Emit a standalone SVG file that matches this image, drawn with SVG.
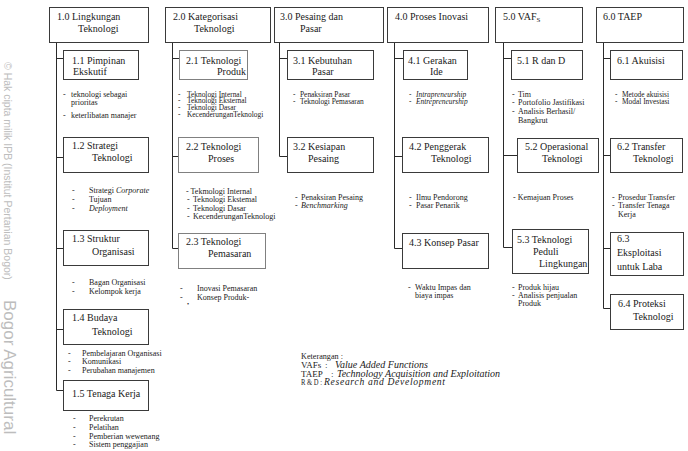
<svg xmlns="http://www.w3.org/2000/svg" width="688" height="451" viewBox="0 0 688 451">
<style>
text{font-family:"Liberation Serif","Times New Roman",serif;fill:#1a1a1a}
.t{font-size:10px}
.b{font-size:8px}
.s{font-size:7.4px}
.lg{font-size:9px}
.li{font-size:9.6px;font-style:italic}
.i{font-style:italic}
rect{fill:#fff;stroke:#3a3a3a;stroke-width:1}
rect.g{stroke:#808080}
.c{fill:none;stroke:#2a2a2a;stroke-width:1}
.wm{font-family:"Liberation Sans",Arial,sans-serif;fill:#bdbdbd}
</style>
<rect width="688" height="451" style="fill:#fff;stroke:none"/>
<g id="watermark">
<text class="wm" font-size="10.5" transform="translate(4,62) rotate(90)">© Hak cipta milik IPB (Institut Pertanian Bogor)</text>
<text class="wm" font-size="17" transform="translate(4,300) rotate(90)">Bogor Agricultural</text>
</g>
<g id="connectors">
<path class="c" d="M56.5,42 V390.5 H63 M56.5,58.5 H63 M56.5,157.5 H63 M56.5,248.5 H63 M56.5,329.5 H63"/>
<path class="c" d="M172.5,42 V248.5 H178 M172.5,58.5 H179 M172.5,156.5 H178"/>
<path class="c" d="M279.5,42 V156.5 H287 M279.5,58.5 H287"/>
<path class="c" d="M394.5,42 V248.5 H402 M394.5,58.5 H403 M394.5,156.5 H402"/>
<path class="c" d="M503.5,42 V247.5 H512 M503.5,58.5 H511 M503.5,155.5 H517"/>
<path class="c" d="M603.5,42 V308.5 H610 M603.5,58.5 H610 M603.5,155.5 H610 M603.5,248.5 H610"/>
</g>
<g id="n1-0"><rect x="49.5" y="7.5" width="99" height="35"/><text class="t" x="57" y="20">1.0 Lingkungan</text><text class="t" x="78" y="32">Teknologi</text></g>
<g id="n2-0"><rect x="165.5" y="7.5" width="105" height="35"/><text class="t" x="173" y="20">2.0 Kategorisasi</text><text class="t" x="194" y="32">Teknologi</text></g>
<g id="n3-0"><rect x="274.5" y="7.5" width="109" height="35"/><text class="t" x="280" y="20">3.0 Pesaing dan</text><text class="t" x="300" y="32">Pasar</text></g>
<g id="n4-0"><rect x="387.5" y="7.5" width="101" height="35"/><text class="t" x="395" y="20">4.0 Proses Inovasi</text></g>
<g id="n5-0"><rect x="495.5" y="7.5" width="87" height="35"/><text class="t" x="503" y="20">5.0 VAF<tspan font-size="7" dy="2">S</tspan></text></g>
<g id="n6-0"><rect x="596.5" y="7.5" width="87" height="35"/><text class="t" x="603" y="20">6.0 TAEP</text></g>

<g id="n1-1"><rect x="63.5" y="50.5" width="75" height="29"/><text class="t" x="72" y="64">1.1 Pimpinan</text><text class="t" x="73" y="75">Ekskutif</text>
<text class="b" x="63" y="97">- <tspan x="71">teknologi sebagai</tspan></text><text class="b" x="71" y="105">prioritas</text><text class="b" x="63" y="118">- <tspan x="71">keterlibatan manajer</tspan></text></g>
<g id="n1-2"><rect x="63.5" y="137.5" width="85" height="35"/><text class="t" x="72" y="149">1.2 Strategi</text><text class="t" x="92" y="161">Teknologi</text>
<text class="b" x="72" y="192.5">-<tspan x="89">Strategi </tspan><tspan class="i">Corporate</tspan></text><text class="b" x="72" y="201.5">-<tspan x="89">Tujuan</tspan></text><text class="b" x="72" y="210.5">-<tspan x="89" class="i">Deployment</tspan></text></g>
<g id="n1-3"><rect x="63.5" y="230.5" width="85" height="35"/><text class="t" x="72" y="242">1.3 Struktur</text><text class="t" x="92" y="255">Organisasi</text>
<text class="b" x="72" y="284.5">-<tspan x="89">Bagan Organisasi</tspan></text><text class="b" x="72" y="293.5">-<tspan x="89">Kelompok kerja</tspan></text></g>
<g id="n1-4"><rect x="63.5" y="309.5" width="85" height="35"/><text class="t" x="72" y="321">1.4 Budaya</text><text class="t" x="92" y="335">Teknologi</text>
<text class="b" x="68" y="355.5">-<tspan x="82">Pembelajaran Organisasi</tspan></text><text class="b" x="68" y="364">-<tspan x="82">Komunikasi</tspan></text><text class="b" x="68" y="372.5">-<tspan x="82">Perubahan manajemen</tspan></text></g>
<g id="n1-5"><rect x="63.5" y="380.5" width="85" height="30"/><text class="t" x="72" y="397">1.5 Tenaga Kerja</text>
<text class="b" x="73" y="420.5">-<tspan x="89">Perekrutan</tspan></text><text class="b" x="73" y="429.5">-<tspan x="89">Pelatihan</tspan></text><text class="b" x="73" y="439">-<tspan x="89">Pemberian wewenang</tspan></text><text class="b" x="73" y="447">-<tspan x="89">Sistem penggajian</tspan></text></g>

<g id="n2-1"><rect class="g" x="179.5" y="50.5" width="68" height="29"/><text class="t" x="186" y="64">2.1 Teknologi</text><text class="t" x="217" y="75">Produk</text>
<text class="s" x="178" y="96.5">-<tspan x="187">Teknologi Internal</tspan></text><text class="s" x="178" y="103.2">-<tspan x="187">Teknologi Eksternal</tspan></text><text class="s" x="178" y="109.9">-<tspan x="187">Teknologi Dasar</tspan></text><text class="s" x="178" y="116.6">-<tspan x="187">KecenderunganTeknologi</tspan></text></g>
<g id="n2-2"><rect class="g" x="178.5" y="137.5" width="80" height="35"/><text class="t" x="186" y="150">2.2 Teknologi</text><text class="t" x="208" y="162">Proses</text>
<text class="b" x="186" y="193.5">- Tekmologi Internal</text><text class="b" x="187" y="201.8">-<tspan x="193">Teknologi Ekstemal</tspan></text><text class="b" x="187" y="210.5">-<tspan x="193">Teknologi Dasar</tspan></text><text class="b" x="187" y="219.2">-<tspan x="193">KecenderunganTeknologi</tspan></text></g>
<g id="n2-3"><rect class="g" x="178.5" y="233.5" width="87" height="35"/><text class="t" x="186" y="245">2.3 Teknologi</text><text class="t" x="208" y="257">Pemasaran</text>
<text class="b" x="180" y="290.5">-<tspan x="197">Inovasi Pemasaran</tspan></text><text class="b" x="180" y="299.5">-<tspan x="197">Konsep Produk-</tspan></text><text x="187" y="306" font-size="6">•</text></g>

<g id="n3-1"><rect x="287.5" y="50.5" width="86" height="29"/><text class="t" x="293" y="64">3.1 Kebutuhan</text><text class="t" x="312" y="75">Pasar</text>
<text class="s" x="293" y="96.5">-<tspan x="300">Penaksiran Pasar</tspan></text><text class="s" x="293" y="104">-<tspan x="300">Teknologi Pemasaran</tspan></text></g>
<g id="n3-2"><rect x="287.5" y="137.5" width="86" height="35"/><text class="t" x="293" y="150">3.2 Kesiapan</text><text class="t" x="308" y="162">Pesaing</text>
<text class="b" x="295" y="199.5">-<tspan x="301">Penaksiran Pesaing</tspan></text><text class="b" x="295" y="208">-<tspan x="301" class="i">Benchmarking</tspan></text></g>

<g id="n4-1"><rect x="403.5" y="50.5" width="64" height="29"/><text class="t" x="408" y="64">4.1 Gerakan</text><text class="t" x="430" y="75">Ide</text>
<text class="s" x="409" y="96.5">-<tspan x="416" class="i">Intrapreneurship</tspan></text><text class="s" x="409" y="104">-<tspan x="416" class="i">Entrepreneurship</tspan></text></g>
<g id="n4-2"><rect x="402.5" y="137.5" width="86" height="35"/><text class="t" x="409" y="150">4.2 Penggerak</text><text class="t" x="431" y="162">Teknologi</text>
<text class="b" x="409" y="199.5">-<tspan x="416">Ilmu Pendorong</tspan></text><text class="b" x="409" y="208">-<tspan x="416">Pasar Penarik</tspan></text></g>
<g id="n4-3"><rect x="402.5" y="233.5" width="86" height="35"/><text class="t" x="409" y="246">4.3 Konsep Pasar</text>
<text class="b" x="408" y="289.5">-<tspan x="415">Waktu Impas dan</tspan></text><text class="b" x="415" y="297.8">biaya impas</text></g>

<g id="n5-1"><rect x="511.5" y="50.5" width="71" height="29"/><text class="t" x="517" y="64">5.1 R dan D</text>
<text class="b" x="512" y="96.5">-<tspan x="518">Tim</tspan></text><text class="b" x="512" y="105.3">-<tspan x="518">Portofolio Jastifikasi</tspan></text><text class="b" x="512" y="114.1">-<tspan x="518">Analisis Berhasil/</tspan></text><text class="b" x="518" y="122.9">Bangkrut</text></g>
<g id="n5-2"><rect x="517.5" y="138.5" width="81" height="34"/><text class="t" x="525" y="150">5.2 Operasional</text><text class="t" x="542" y="162">Teknologi</text>
<text class="b" x="513" y="199.5">- Kemajuan Proses</text></g>
<g id="n5-3"><rect x="512.5" y="229.5" width="76" height="44"/><text class="t" x="517" y="243">5.3 Teknologi</text><text class="t" x="533" y="255">Peduli</text><text class="t" x="539" y="267">Lingkungan</text>
<text class="b" x="512" y="289.5">-<tspan x="518">Produk hijau</tspan></text><text class="b" x="512" y="297.8">-<tspan x="518">Analisis penjualan</tspan></text><text class="b" x="518" y="306.1">Produk</text></g>

<g id="n6-1"><rect x="610.5" y="50.5" width="72" height="29"/><text class="t" x="617" y="64">6.1 Akuisisi</text>
<text class="s" x="615" y="96.5">-<tspan x="622">Metode akuisisi</tspan></text><text class="s" x="615" y="104">-<tspan x="622">Modal Investasi</tspan></text></g>
<g id="n6-2"><rect x="610.5" y="138.5" width="72" height="34"/><text class="t" x="617" y="150">6.2 Transfer</text><text class="t" x="633" y="162">Teknologi</text>
<text class="b" x="612" y="199.5">-<tspan x="618">Prosedur Transfer</tspan></text><text class="b" x="612" y="208">-<tspan x="618">Transfer Tenaga</tspan></text><text class="b" x="618" y="216.5">Kerja</text></g>
<g id="n6-3"><rect x="610.5" y="232.5" width="73" height="43"/><text class="t" x="617" y="242">6.3</text><text class="t" x="617" y="256">Eksploitasi</text><text class="t" x="617" y="270">untuk Laba</text></g>
<g id="n6-4"><rect x="610.5" y="294.5" width="73" height="35"/><text class="t" x="618" y="307">6.4 Proteksi</text><text class="t" x="633" y="320">Teknologi</text></g>

<g id="legend">
<text class="lg" x="301" y="358.5" textLength="42" lengthAdjust="spacingAndGlyphs">Keterangan :</text>
<text class="lg" x="301" y="367.5">VAFs</text><text class="lg" x="325" y="367.5">:</text><text class="li" x="335" y="367.5" textLength="93" lengthAdjust="spacingAndGlyphs">Value Added Functions</text>
<text class="lg" x="301" y="376.5">TAEP</text><text class="lg" x="331" y="376.5">:</text><text class="li" x="337" y="376.5" textLength="163" lengthAdjust="spacingAndGlyphs">Technology Acquisition and Exploitation</text>
<text class="lg" x="301" y="385" textLength="21" lengthAdjust="spacingAndGlyphs">R &amp; D :</text><text class="li" x="324" y="385" textLength="121" lengthAdjust="spacing">Research and Development</text>
</g>
</svg>
